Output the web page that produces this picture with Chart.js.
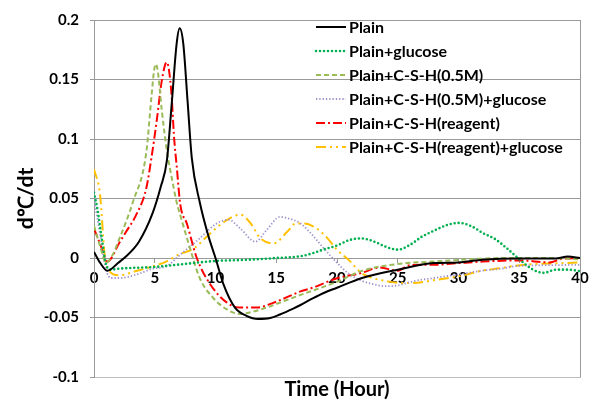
<!DOCTYPE html>
<html>
<head>
<meta charset="utf-8">
<script src="https://cdn.jsdelivr.net/npm/chart.js@4.4.1/dist/chart.umd.min.js"></script>
<style>
  html, body { margin: 0; padding: 0; background: #fff; }
  #wrap { width: 598px; height: 402px; }
</style>
</head>
<body>
<div id="wrap"><canvas id="rateChart"></canvas></div>
<script>
const SERIES_NAMES = [
  "Plain",
  "Plain+glucose",
  "Plain+C-S-H(0.5M)",
  "Plain+C-S-H(0.5M)+glucose",
  "Plain+C-S-H(reagent)",
  "Plain+C-S-H(reagent)+glucose",
];

const X_TICKS = [0, 5, 10, 15, 20, 25, 30, 35, 40];
const Y_TICKS = [-0.1, -0.05, 0, 0.05, 0.1, 0.15, 0.2];
const Y_TICK_LABELS = ["-0.1", "-0.05", "0", "0.05", "0.1", "0.15", "0.2"];

// Plain
const plainT = [0, 0.5, 1.1, 2, 2.6, 3.7, 4.8, 5.5, 6, 6.4, 6.8, 7.05, 7.35, 7.7, 8.05, 8.7, 9.4, 10, 10.65, 11.6, 12.55, 13.5, 14.5, 15.3, 16.4, 17, 18, 19, 20, 22, 25, 28, 30, 32, 35, 38, 39, 40];
const plainV = [0.005, -0.004, -0.0107, -0.004, 0.001, 0.0137, 0.037, 0.06, 0.082, 0.13, 0.18, 0.193, 0.18, 0.132, 0.084, 0.047, 0.019, 0, -0.022, -0.0417, -0.0486, -0.0513, -0.0505, -0.0475, -0.0425, -0.0395, -0.034, -0.029, -0.025, -0.017, -0.0098, -0.0043, -0.0037, -0.0015, -0.0005, -0.0005, 0.0012, 0];

// Plain+glucose
const glucoseT = [0, 0.3, 0.6, 1, 1.4, 2, 5, 7, 10, 12.6, 15, 17, 18, 19, 20, 21, 22, 23, 24, 25, 26, 27, 28, 29, 30, 31, 32, 33, 34, 35, 36, 37, 38, 39, 40];
const glucoseV = [0.055, 0.04, 0.019, -0.0055, -0.0098, -0.009, -0.0075, -0.0055, -0.0025, -0.0015, 0, 0.0015, 0.004, 0.0075, 0.0105, 0.015, 0.0165, 0.014, 0.0095, 0.007, 0.011, 0.018, 0.023, 0.0275, 0.0295, 0.027, 0.021, 0.016, 0.008, -0.001, -0.009, -0.0125, -0.0098, -0.0098, -0.011];

// Plain+C-S-H(0.5M)
const cshT = [0, 0.5, 1, 1.5, 2.1, 3.2, 4.3, 4.75, 4.95, 5.08, 5.25, 5.58, 6, 6.5, 6.8, 7.1, 7.9, 8.7, 9.8, 10.9, 12, 13.1, 14.2, 15.3, 17, 20, 22, 25, 28, 31, 34, 37, 40];
const cshV = [0.027, 0.01, -0.004, 0.002, 0.0165, 0.047, 0.0885, 0.138, 0.158, 0.163, 0.157, 0.124, 0.09, 0.062, 0.047, 0.036, 0.0083, -0.0168, -0.0334, -0.043, -0.047, -0.045, -0.0417, -0.0375, -0.031, -0.02, -0.011, -0.005, -0.003, -0.001, 0, 0, -0.001];

// Plain+C-S-H(0.5M)+glucose
const cshGluT = [0, 0.5, 1, 1.4, 2.1, 3.46, 4.84, 5.94, 7.09, 8.7, 10.1, 11.07, 12.05, 13.28, 14.2, 15.3, 16.1, 17, 18, 19, 20, 21, 22, 23, 24, 25, 26.3, 28, 30.3, 31.9, 33.5, 34.6, 36.2, 38, 40];
const cshGluV = [0.05, 0.02, -0.01, -0.0168, -0.0168, -0.014, -0.009, -0.007, 0.0027, 0.0165, 0.029, 0.0322, 0.0247, 0.0137, 0.0234, 0.0345, 0.033, 0.029, 0.019, 0.007, -0.004, -0.0135, -0.019, -0.022, -0.0237, -0.023, -0.0195, -0.0168, -0.0134, -0.0107, -0.009, -0.007, -0.0062, -0.006, -0.0057];

// Plain+C-S-H(reagent)
const reagentT = [0, 0.5, 1.1, 2.1, 2.64, 3.46, 4.29, 4.75, 5.17, 5.58, 5.99, 6.36, 6.6, 6.8, 7.1, 7.64, 8.46, 9.56, 10.94, 12.04, 13.4, 14.8, 16.4, 17, 18, 20, 22, 23.5, 25, 26, 28, 30, 32, 35, 37.5, 38.5, 40];
const reagentV = [0.0247, 0.012, -0.003, 0.013, 0.022, 0.036, 0.058, 0.0857, 0.116, 0.149, 0.1645, 0.14, 0.1, 0.078, 0.045, 0.029, 0, -0.022, -0.0375, -0.0417, -0.0417, -0.0375, -0.0306, -0.028, -0.025, -0.017, -0.0126, -0.008, -0.0107, -0.006, -0.0057, -0.0043, -0.003, -0.002, -0.0037, -0.0007, 0];

// Plain+C-S-H(reagent)+glucose
const reagentGluT = [0, 0.5, 0.85, 1, 1.26, 2.1, 3.46, 4.84, 5.94, 7, 8.2, 9.56, 10.65, 12.04, 12.9, 13.7, 14.8, 15.9, 16.6, 17.3, 18.3, 19, 20, 21, 22, 23, 24.1, 25.2, 26.3, 28.1, 30.3, 31.9, 33.5, 34.6, 36.2, 38, 40];
const reagentGluV = [0.0746, 0.053, 0.0054, -0.0055, -0.011, -0.0145, -0.011, -0.007, -0.003, 0.003, 0.008, 0.0206, 0.03, 0.0364, 0.029, 0.0165, 0.0123, 0.022, 0.029, 0.029, 0.025, 0.019, 0.007, -0.002, -0.0126, -0.017, -0.0195, -0.021, -0.021, -0.0184, -0.0148, -0.0107, -0.0085, -0.0066, -0.0051, -0.0045, -0.0037];

const SERIES_T = [plainT, glucoseT, cshT, cshGluT, reagentT, reagentGluT];
const SERIES_V = [plainV, glucoseV, cshV, cshGluV, reagentV, reagentGluV];

const LINE_STYLES = [
  { color: "#000000", width: 2, dash: [], cap: "butt" },
  { color: "#00b050", width: 2.6, dash: [0, 4], cap: "round" },
  { color: "#9bbb59", width: 2, dash: [5, 3], cap: "butt" },
  { color: "#9f8fcb", width: 1.8, dash: [1.3, 2], cap: "butt" },
  { color: "#ff0000", width: 2, dash: [9, 3, 2, 3], cap: "butt" },
  { color: "#ffc000", width: 2, dash: [10, 4, 2, 4, 2, 4], cap: "butt" },
];

const GRID_COLOR = "#9a9a9a";
const FONT_FAMILY = "Lato, 'Open Sans', sans-serif";

const datasets = SERIES_NAMES.map((name, i) => ({
  label: name,
  data: SERIES_T[i].map((t, k) => ({ x: t, y: SERIES_V[i][k] })),
  borderColor: LINE_STYLES[i].color,
  borderWidth: LINE_STYLES[i].width,
  borderDash: LINE_STYLES[i].dash,
  borderCapStyle: LINE_STYLES[i].cap,
  pointRadius: 0,
  fill: false,
  cubicInterpolationMode: "monotone",
}));

// legend sits inside the plot, to the upper right
const insideLegend = {
  id: "insideLegend",
  afterDatasetsDraw(chart) {
    const { ctx, chartArea } = chart;
    const x0 = chartArea.right - 264;
    ctx.save();
    chart.data.datasets.forEach((ds, i) => {
      const y = chartArea.top + 7 + i * 24;
      ctx.beginPath();
      ctx.setLineDash(ds.borderDash || []);
      ctx.lineCap = ds.borderCapStyle || "butt";
      ctx.strokeStyle = ds.borderColor;
      ctx.lineWidth = ds.borderWidth;
      ctx.moveTo(x0, y);
      ctx.lineTo(x0 + 30, y);
      ctx.stroke();
      ctx.setLineDash([]);
      ctx.fillStyle = "#000";
      ctx.font = `bold 16px ${FONT_FAMILY}`;
      ctx.textBaseline = "middle";
      ctx.fillText(ds.label, x0 + 33, y + 1);
    });
    ctx.restore();
  },
};

// right edge of the plot box
const plotFrame = {
  id: "plotFrame",
  beforeDatasetsDraw(chart) {
    const { ctx, chartArea } = chart;
    ctx.save();
    ctx.strokeStyle = GRID_COLOR;
    ctx.lineWidth = 1;
    ctx.beginPath();
    ctx.moveTo(Math.round(chartArea.right) + 0.5, chartArea.top);
    ctx.lineTo(Math.round(chartArea.right) + 0.5, chartArea.bottom);
    ctx.stroke();
    ctx.restore();
  },
};

new Chart(document.getElementById("rateChart"), {
  type: "line",
  data: { datasets },
  options: {
    responsive: true,
    maintainAspectRatio: false,
    animation: false,
    layout: { padding: { top: 16, right: 18, bottom: 0, left: 14 } },
    plugins: {
      legend: { display: false },
      tooltip: { enabled: false },
    },
    scales: {
      x: {
        type: "linear",
        min: 0,
        max: 40,
        position: { y: 0 },
        afterBuildTicks: (scale) => {
          scale.ticks = X_TICKS.map((v) => ({ value: v }));
        },
        ticks: {
          color: "#000",
          font: { family: FONT_FAMILY, size: 15, weight: "bold" },
          padding: 7,
          maxRotation: 0,
          autoSkip: false,
        },
        grid: { drawOnChartArea: false, drawTicks: true, tickLength: 4, color: GRID_COLOR },
        border: { display: true, color: GRID_COLOR },
      },
      xBottom: {
        type: "linear",
        axis: "x",
        position: "bottom",
        min: 0,
        max: 40,
        ticks: { display: false },
        grid: { display: false },
        border: { display: true, color: "#bdbdbd" },
        afterFit: (scale) => { scale.height = 25; },
        title: {
          display: true,
          text: "Time (Hour)",
          color: "#000",
          font: { family: FONT_FAMILY, size: 20, weight: "bold" },
          padding: { top: 0, bottom: 0 },
        },
      },
      y: {
        min: -0.1,
        max: 0.2,
        afterBuildTicks: (scale) => {
          scale.ticks = Y_TICKS.map((v) => ({ value: v }));
        },
        afterFit: (scale) => { scale.width = 80; },
        ticks: {
          color: "#000",
          font: { family: FONT_FAMILY, size: 15, weight: "bold" },
          padding: 11,
          callback: (value, index) => Y_TICK_LABELS[index],
        },
        grid: { color: GRID_COLOR, drawTicks: true, tickLength: 4 },
        border: { display: true, color: GRID_COLOR },
        title: {
          display: true,
          text: "d℃/dt",
          color: "#000",
          font: { family: FONT_FAMILY, size: 21, weight: "bold" },
          padding: { top: 0, bottom: 0 },
        },
      },
    },
  },
  plugins: [plotFrame, insideLegend],
});
</script>
</body>
</html>
